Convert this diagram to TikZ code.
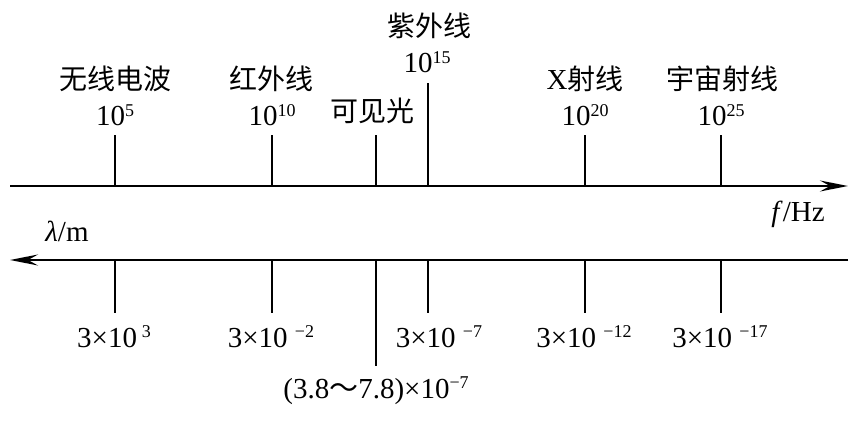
\documentclass[tikz,border=0pt]{standalone}
\usepackage{fontspec}
\setmainfont{Liberation Serif}
\newfontfamily\cjk{Noto Sans CJK SC}
\usetikzlibrary{arrows.meta}
\newcommand\spx[1]{\raisebox{9.5pt}{\fontsize{18}{18}\selectfont #1}}
\begin{document}
\begin{tikzpicture}[x=1pt,y=-1pt,
  lbl/.style={anchor=base, inner sep=0pt, font=\fontsize{29}{30}\selectfont},
  cn/.style={anchor=base, inner sep=0pt, font=\fontsize{28}{30}\selectfont\cjk},
  axis/.style={line width=2pt},
  tickline/.style={line width=1.8pt},
  tip/.style={-{Stealth[length=28pt,width=11pt,inset=10pt]}}]
\useasboundingbox (0,0) rectangle (856,427);
% axes
\coordinate (topL) at (10,186);
\coordinate (topR) at (848,186);
\coordinate (botR) at (848,260);
\coordinate (botL) at (10,260);
\draw[axis,tip] (topL) -- (topR);
\draw[axis,tip] (botR) -- (botL);
% upper ticks
\foreach \n/\x/\t in {a/115/135, b/272/135, c/376/135, d/428/83, e/585/135, f/721/135}{
  \coordinate (u\n) at (\x,186);
  \coordinate (ue\n) at (\x,\t);
  \draw[tickline] (u\n) -- (ue\n);
}
% lower ticks
\foreach \n/\x/\t in {a/115/313, b/272/313, c/376/366, d/428/313, e/585/313, f/721/313}{
  \coordinate (l\n) at (\x,260);
  \coordinate (le\n) at (\x,\t);
  \draw[tickline] (l\n) -- (le\n);
}
% upper labels
\node[cn] (wx) at (115,90) {无线电波};
\node[lbl] (f5) at (115,126) {10\spx{5}};
\node[cn] (hw) at (271,90) {红外线};
\node[lbl] (f10) at (272,126) {10\spx{10}};
\node[cn] (kj) at (372,122) {可见光};
\node[cn] (zw) at (429,37) {紫外线};
\node[lbl] (f15) at (427,73) {10\spx{15}};
\node[lbl] (xs) at (585,90) {X{\fontsize{28}{30}\selectfont\cjk 射线}};
\node[lbl] (f20) at (585,126) {10\spx{20}};
\node[cn] (yz) at (722,90) {宇宙射线};
\node[lbl] (f25) at (721,126) {10\spx{25}};
\node[lbl] (fhz) at (798,222) {\textit{f}/Hz};
\node[lbl] (lm) at (67,242) {\textit{λ}/m};
% lower labels
\node[lbl] (w1) at (114,347) {3×10\,\spx{3}};
\node[lbl] (w2) at (271,347) {3×10 \spx{−2}};
\node[lbl] (w3) at (439,347) {3×10 \spx{−7}};
\node[lbl] (w4) at (584,347) {3×10 \spx{−12}};
\node[lbl] (w5) at (720,347) {3×10 \spx{−17}};
\node[lbl] (w6) at (376,398) {(3.8{\cjk ～}7.8)×10\spx{−7}};
\end{tikzpicture}
\end{document}
